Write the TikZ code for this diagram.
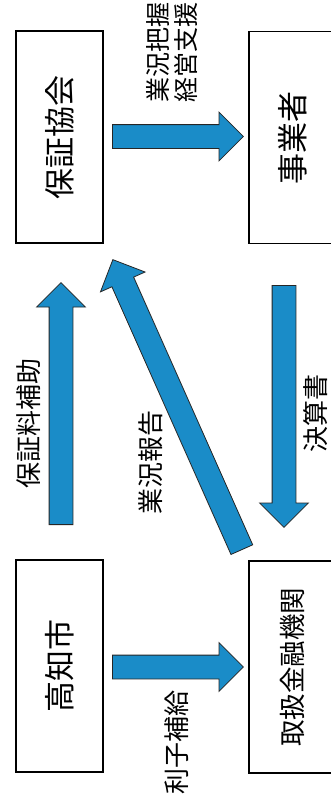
\documentclass[tikz,border=0pt]{standalone}
\usepackage{fontspec}
\setmainfont{Noto Sans CJK JP}
\usepackage{xcolor}
\usetikzlibrary{calc,shapes.arrows}
\definecolor{flowblue}{RGB}{26,140,200}

% block arrow between two named coordinates
\newcommand{\flowarrow}[2]{%
  \path let \p1=($(#2)-(#1)$), \n1={veclen(\x1,\y1)}, \n2={atan2(\y1,\x1)} in
    node[flow, minimum height=\n1, rotate=\n2, anchor=tail] at (#1) {};}

\begin{document}
\begin{tikzpicture}[x=1pt, y=-1pt,
    box/.style={rectangle, draw, line width=1.2pt, rotate=90, minimum width=212pt,
      minimum height=87pt, inner sep=0pt, font=\fontsize{31}{31}\selectfont},
    flow/.style={single arrow, draw=black!85, line width=0.8pt, fill=flowblue,
      single arrow head extend=12.5pt, inner sep=0pt,
      text height=23pt, text depth=0pt, text width=0pt},
    lbl/.style={rotate=90, inner sep=0pt, align=center, font=\fontsize{26}{28}\selectfont}]
    \useasboundingbox (0,0) rectangle (331,804);
    \clip (0,0) rectangle (331,804);

    % boxes
    \node[box] (kyokai) at (59.5, 137) {保証協会};
    \node[box] (jigyo) at (292.5, 137.5) {事業者};
    \node[box] (kochi) at (59.5, 666) {高知市};
    \node[box, font=\fontsize{26.5}{26.5}\selectfont] (kinyu) at (292.5, 667) {取扱金融機関};

    % arrow ends
    \coordinate (shienS) at (112, 136.5);
    \coordinate (shienE) at (243, 136.5);
    \coordinate (rishiS) at (112, 667);
    \coordinate (rishiE) at (243, 667);
    \coordinate (hoshoS) at (61, 525);
    \coordinate (hoshoE) at (61, 283);
    \coordinate (kessanS) at (284, 285);
    \coordinate (kessanE) at (284, 527);
    \coordinate (hokokuS) at (242, 550);
    \coordinate (hokokuE) at (113, 260);

    \flowarrow{shienS}{shienE}
    \flowarrow{rishiS}{rishiE}
    \flowarrow{hoshoS}{hoshoE}
    \flowarrow{kessanS}{kessanE}
    \flowarrow{hokokuS}{hokokuE}

    % labels
    \node[lbl, font=\fontsize{25}{28}\selectfont] (lshien) at (172, 52) {業況把握\\経営支援};
    \node[lbl] (lhosho) at (29, 423) {保証料補助};
    \node[lbl] (lhokoku) at (151, 462) {業況報告};
    \node[lbl] (lkessan) at (316, 413) {決算書};
    \node[lbl] (lrishi) at (177, 742) {利子補給};
\end{tikzpicture}
\end{document}
